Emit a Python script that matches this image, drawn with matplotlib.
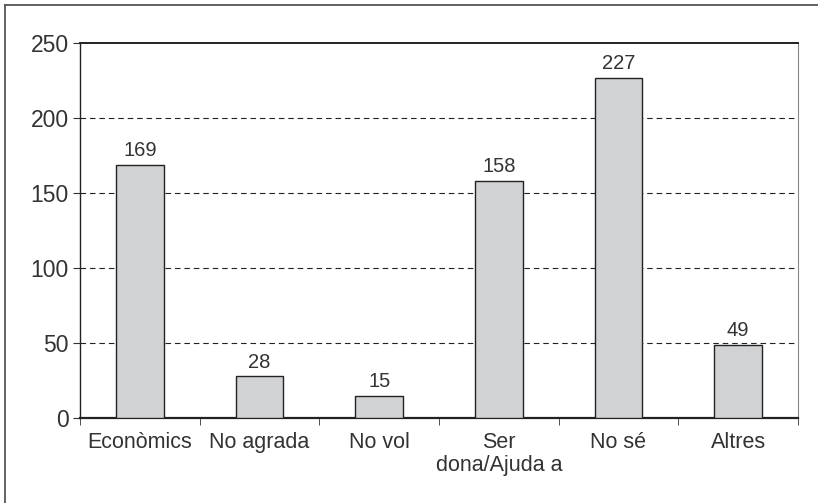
import matplotlib
matplotlib.use("Agg")
import matplotlib.pyplot as plt
from matplotlib.lines import Line2D

categories = ["Econòmics", "No agrada", "No vol", "Ser\ndona/Ajuda a", "No sé", "Altres"]
values = [169, 28, 15, 158, 227, 49]
yticks = [0, 50, 100, 150, 200, 250]

plt.rcParams['font.family'] = ['Liberation Sans', 'DejaVu Sans']
txt = '#333333'

fig = plt.figure(figsize=(8.18, 5.03), dpi=100)
ax = fig.add_axes([80/818, 1-418/503, (798-80)/818, (418-43)/503])

x = list(range(len(categories)))
ax.bar(x, values, width=0.4, color='#d1d2d4', edgecolor='#222222', linewidth=1.0, zorder=3)
for xi, v in zip(x, values):
    ax.text(xi, v + 3, str(v), ha='center', va='bottom', fontsize=14.5, color=txt)

ax.set_xlim(-0.5, len(categories) - 0.5)
ax.set_ylim(0, 250)
ax.set_yticks(yticks)
ax.set_yticklabels([str(t) for t in yticks], fontsize=16.5, color=txt)
ax.set_xticks(x)
ax.set_xticklabels(categories, fontsize=15.5, color=txt, linespacing=1.15)
ax.tick_params(axis='x', length=0, pad=10)
ax.set_xticks([i - 0.5 for i in range(len(categories) + 1)], minor=True)
ax.tick_params(axis='x', which='minor', length=5, direction='out', color='#333333')
ax.tick_params(axis='y', length=5, direction='out', color='#333333', pad=3)

for t in [50, 100, 150, 200]:
    ax.axhline(t, color='#222222', linestyle=(0, (5, 3.5)), linewidth=0.8, zorder=1)

ax.spines['left'].set_color('#222222')
ax.spines['bottom'].set_color('#222222')
ax.spines['bottom'].set_linewidth(1.6)
ax.spines['top'].set_color('#222222')
ax.spines['top'].set_linewidth(1.4)
ax.spines['right'].set_color('#888888')
ax.spines['left'].set_linewidth(1.0)

# outer frame
fig.add_artist(Line2D([4.5/818, 4.5/818], [0, 1-4.5/503], transform=fig.transFigure, color='#555555', linewidth=1.3))
fig.add_artist(Line2D([4.5/818, 1], [1-4.5/503, 1-4.5/503], transform=fig.transFigure, color='#555555', linewidth=1.3))

fig.savefig("out.png", dpi=100)
